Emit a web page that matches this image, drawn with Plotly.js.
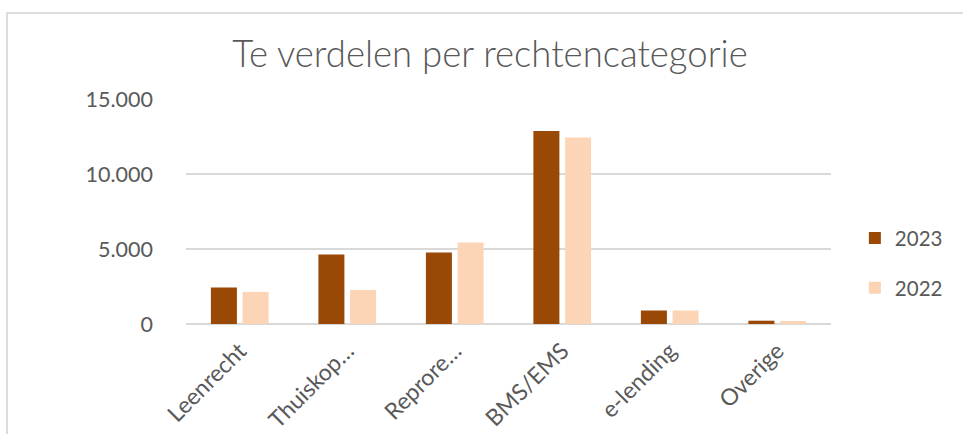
<!DOCTYPE html>
<html>
<head>
<meta charset="utf-8">
<script src="https://cdn.plot.ly/plotly-3.0.1.min.js"></script>
<style>
  html, body { margin: 0; padding: 0; background: #fff; }
  #wrap { position: relative; width: 963px; height: 434px; overflow: hidden; }
  #chart { position: absolute; left: 0; top: 0; width: 963px; height: 434px; }
  #frame { position: absolute; left: 6px; top: 12px; width: 1000px; height: 500px;
           border-left: 2px solid #dcdcdc; border-top: 2px solid #dcdcdc; pointer-events: none; }
</style>
</head>
<body>
<div id="wrap">
  <div id="chart"></div>
  <div id="frame"></div>
</div>
<script>
const categories = ["Leenrecht", "Thuiskop…", "Reprore…", "BMS/EMS", "e-lending", "Overige"];
const values2023 = [2430, 4640, 4770, 12860, 900, 220];
const values2022 = [2145, 2270, 5440, 12440, 900, 200];
const seriesNames = ["2023", "2022"];
const tickValues = [0, 5000, 10000, 15000];

const textColor = "#595959";
const font = "Lato, 'Open Sans', sans-serif";

const traces = [
  { type: "bar", name: seriesNames[0], x: categories, y: values2023,
    marker: { color: "#9A4806" }, legendgroup: "a" },
  { type: "bar", name: seriesNames[1], x: categories, y: values2022,
    marker: { color: "#FBD5B6" }, legendgroup: "b" }
];

const layout = {
  width: 963, height: 434,
  paper_bgcolor: "rgba(0,0,0,0)", plot_bgcolor: "rgba(0,0,0,0)",
  separators: ",.",
  font: { family: font, color: textColor, size: 20 },
  margin: { l: 186, r: 132, t: 99, b: 110, pad: 0 },
  title: { text: "Te verdelen per rechtencategorie", font: { family: font, size: 36.5, color: textColor, weight: 300 },
           x: 490 / 963, xref: "container", xanchor: "center",
           y: 1 - 54 / 434, yref: "container", yanchor: "middle" },
  barmode: "group", bargap: 0.41, bargroupgap: 0.18,
  xaxis: { type: "category", tickangle: -45, ticks: "", showgrid: false, showline: false,
           ticklabelstandoff: 8, tickfont: { size: 23, color: textColor } },
  yaxis: { range: [0, 15000], tickvals: tickValues, tickformat: ",d", ticks: "",
           showgrid: true, gridcolor: "#d9d9d9", gridwidth: 1.5,
           zeroline: true, zerolinecolor: "#d9d9d9", zerolinewidth: 1.5, showline: false,
           ticklabelstandoff: 32, tickfont: { size: 21.5, color: textColor } },
  showlegend: true,
  legend: { x: 1.037, xref: "paper", xanchor: "left", y: 0.47, yanchor: "top",
            font: { size: 20.5, color: textColor }, traceorder: "grouped", tracegroupgap: 20,
            bgcolor: "rgba(0,0,0,0)" }
};

Plotly.newPlot("chart", traces, layout, { staticPlot: true, displayModeBar: false });
</script>
</body>
</html>
